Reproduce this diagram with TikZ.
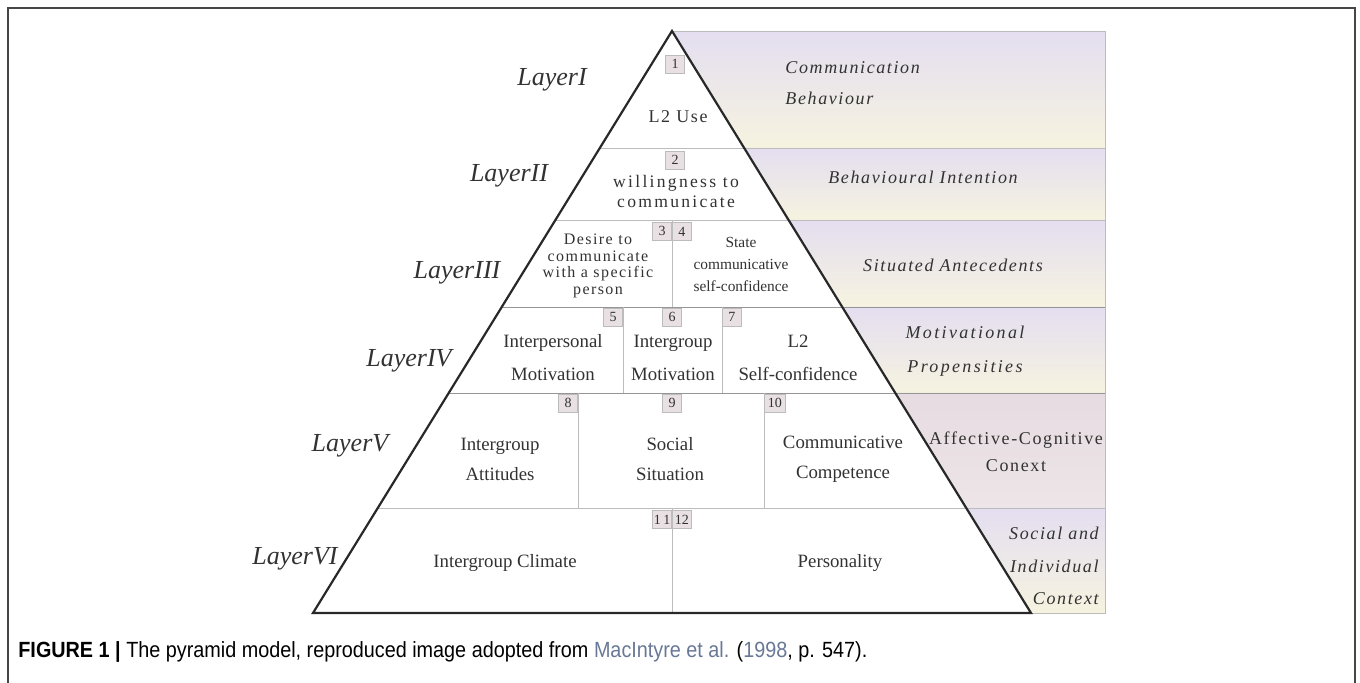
\documentclass[tikz,border=0pt]{standalone}
\usepackage{fontspec}
\setmainfont{Liberation Serif}
\newfontfamily\spacedfont[LetterSpace=9]{Liberation Serif}
\newfontfamily\widefont[LetterSpace=13]{Liberation Serif}
\newfontfamily\capfont[FakeStretch=0.9]{Liberation Sans}

\definecolor{mycolor1}{RGB}{228,222,240}
\definecolor{mycolor2}{RGB}{246,243,224}
\definecolor{mycolor3}{RGB}{230,219,225}
\definecolor{mycolor4}{RGB}{237,229,231}
\definecolor{mycolor5}{RGB}{188,188,188}
\definecolor{mycolor6}{RGB}{232,224,226}
\definecolor{mycolor7}{RGB}{105,120,150}
\definecolor{mycolor8}{RGB}{50,50,50}

\tikzset{
  numbox/.style={draw=mycolor5,fill=mycolor6,inner sep=0pt,minimum width=9.5pt,minimum height=9pt,
    font=\fontsize{7}{7}\selectfont,text=mycolor8},
  layerlabel/.style={font=\fontsize{13}{13}\selectfont\itshape,text=mycolor8},
  boxtext/.style={align=center,text=mycolor8,inner sep=0pt},
  bandtext/.style={align=center,text=mycolor8,inner sep=0pt,font=\spacedfont\itshape},
}

\begin{document}
\begin{tikzpicture}[x=0.5pt,y=-0.5pt]
\useasboundingbox (0,0) rectangle (1360,683);
\draw [mycolor8!90,line width=1pt] (8,683) -- (8,8) -- (1355,8) -- (1355,683);

\shade [top color=mycolor1,bottom color=mycolor2] (672,31) -- (1105,31) -- (1105,148) -- (744.2,148) -- cycle;
\shade [top color=mycolor1,bottom color=mycolor2] (744.2,148) -- (1105,148) -- (1105,220) -- (788.6,220) -- cycle;
\shade [top color=mycolor1,bottom color=mycolor2] (788.6,220) -- (1105,220) -- (1105,307) -- (842.2,307) -- cycle;
\shade [top color=mycolor1,bottom color=mycolor2] (842.2,307) -- (1105,307) -- (1105,393) -- (895.3,393) -- cycle;
\shade [top color=mycolor3,bottom color=mycolor4] (895.3,393) -- (1105,393) -- (1105,508) -- (966.2,508) -- cycle;
\shade [top color=mycolor1,bottom color=mycolor2] (966.2,508) -- (1105,508) -- (1105,613) -- (1031,613) -- cycle;
\draw [mycolor5] (672,31) -- (1105,31) -- (1105,613) -- (1031,613);

\draw [mycolor5] (599.8,148) -- (1105,148);
\draw [mycolor5] (555.4,220) -- (1105,220);
\draw [mycolor5!80!black] (501.8,307) -- (1105,307);
\draw [mycolor5!80!black] (448.7,393) -- (1105,393);
\draw [mycolor5] (377.8,508) -- (1105,508);
\draw [mycolor5] (672,220) -- (672,307);
\draw [mycolor5] (623,307) -- (623,393);
\draw [mycolor5] (722,307) -- (722,393);
\draw [mycolor5] (578,393) -- (578,508);
\draw [mycolor5] (764,393) -- (764,508);
\draw [mycolor5] (672,508) -- (672,613);

\draw [mycolor8!80!black,line width=1.1pt,line join=miter] (313,613) -- (672,31) -- (1031,613) -- cycle;

\node [numbox] (n1) at (675,64) {1};
\node [numbox] (n2) at (675,160) {2};
\node [numbox,anchor=north east] (n3) at (672,222) {3};
\node [numbox,anchor=north west] (n4) at (672,222) {4};
\node [numbox,anchor=north east] (n5) at (623,308) {5};
\node [numbox,anchor=north] (n6) at (672,308) {6};
\node [numbox,anchor=north west] (n7) at (722,308) {7};
\node [numbox,anchor=north east] (n8) at (578,394) {8};
\node [numbox,anchor=north] (n9) at (672,394) {9};
\node [numbox,anchor=north west,minimum width=10.5pt] (n10) at (764,394) {10};
\node [numbox,anchor=north east] (n11) at (672,510) {1\,1};
\node [numbox,anchor=north west] (n12) at (672,510) {12};

\node [layerlabel] (l1) at (552,80) {LayerI};
\node [layerlabel] (l2) at (509,176) {LayerII};
\node [layerlabel] (l3) at (457,273) {LayerIII};
\node [layerlabel] (l4) at (409,361) {LayerIV};
\node [layerlabel] (l5) at (350,446) {LayerV};
\node [layerlabel] (l6) at (295,559) {LayerVI};

\node [boxtext,font=\spacedfont\fontsize{9}{9}\selectfont] (use) at (678,117) {L2 Use};
\node [boxtext,font=\widefont\fontsize{8.8}{10}\selectfont] (wtc) at (676,191) {willingness to\\communicate};
\node [boxtext,font=\spacedfont\fontsize{8}{8.3}\selectfont] (desire) at (598,266) {Desire to\\communicate\\with a specific\\person};
\node [boxtext,font=\fontsize{7.7}{11}\selectfont] (state) at (741,264) {State\\communicative\\self-confidence};
\node [boxtext,font=\fontsize{9.4}{16.5}\selectfont] (inter) at (553,358) {Interpersonal\\Motivation};
\node [boxtext,font=\fontsize{9.4}{16.5}\selectfont] (group) at (673,358) {Intergroup\\Motivation};
\node [boxtext,font=\fontsize{9.4}{16.5}\selectfont] (conf) at (798,358) {L2\\Self-confidence};
\node [boxtext,font=\fontsize{9.4}{15}\selectfont] (att) at (500,459) {Intergroup\\Attitudes};
\node [boxtext,font=\fontsize{9.4}{15}\selectfont] (sit) at (670,459) {Social\\Situation};
\node [boxtext,font=\fontsize{9.4}{15}\selectfont] (comp) at (843,459) {Communicative\\Competence};
\node [boxtext,font=\fontsize{9.4}{11}\selectfont] (climate) at (505,563) {Intergroup Climate};
\node [boxtext,font=\fontsize{9.4}{11}\selectfont] (pers) at (840,563) {Personality};

\node [bandtext,align=left,anchor=west,font=\spacedfont\itshape\fontsize{9}{15.5}\selectfont] (b1) at (785,83) {Communication\\Behaviour};
\node [bandtext,font=\spacedfont\itshape\fontsize{9}{9}\selectfont] (b2) at (923,177) {Behavioural Intention};
\node [bandtext,font=\spacedfont\itshape\fontsize{9}{9}\selectfont] (b3) at (953,265) {Situated Antecedents};
\node [bandtext,font=\widefont\itshape\fontsize{9}{17}\selectfont] (b4) at (965,351) {Motivational\\Propensities};
\node [bandtext,font=\spacedfont\fontsize{9}{13.5}\selectfont] (b5) at (1016,452) {Affective-Cognitive\\Conext};
\node [bandtext,align=right,anchor=east,font=\spacedfont\itshape\fontsize{9}{16.3}\selectfont] (b6) at (1099,566) {Social and\\Individual\\Context};

\node [anchor=west,inner sep=0pt,font=\capfont\fontsize{11}{13}\selectfont] (cap) at (18,652)
  {\textbf{FIGURE 1 |} The pyramid model, reproduced image adopted from \textcolor{mycolor7}{MacIntyre et al.} (\textcolor{mycolor7}{1998}, p. 547).};
\end{tikzpicture}
\end{document}
